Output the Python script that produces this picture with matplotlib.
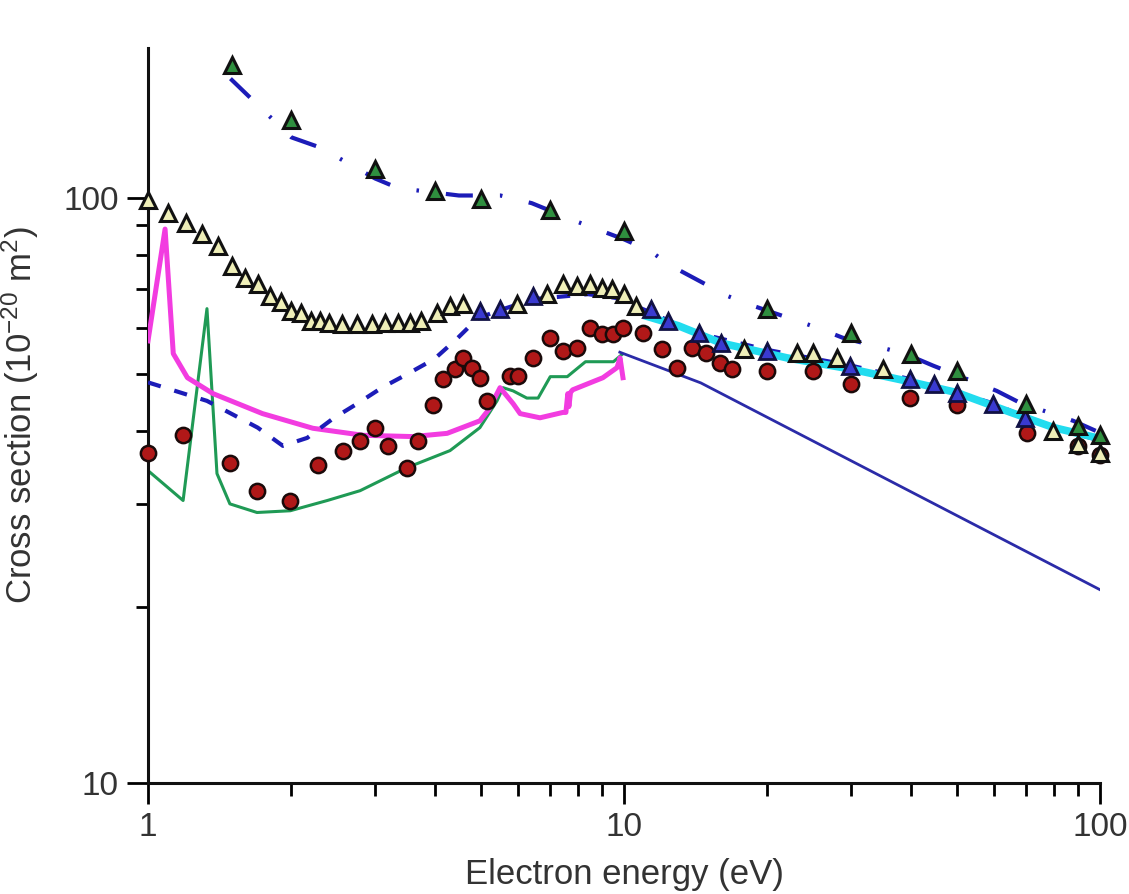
import matplotlib
matplotlib.use("Agg")
import matplotlib.pyplot as plt
from matplotlib.ticker import LogLocator, NullFormatter

plt.rcParams['font.family'] = ['Liberation Sans', 'DejaVu Sans']
plt.rcParams['mathtext.fontset'] = 'custom'
plt.rcParams['mathtext.rm'] = 'Liberation Sans'
plt.rcParams['mathtext.it'] = 'Liberation Sans'

# ---- measured cross sections (green triangles) ----
e_tri_green = [1.5, 2, 3, 4, 5, 7, 10, 20, 30, 40, 50, 70, 90, 100]
s_tri_green = [169, 136, 112, 103, 99.6, 95.4, 87.8, 64.7, 58.8, 54.2, 50.7, 44.5, 40.8, 39.3]

# ---- measured cross sections (pale triangles) ----
e_tri_pale = [1.0, 1.1, 1.2, 1.3, 1.4, 1.5, 1.6, 1.7, 1.8, 1.9, 2.0, 2.1, 2.2, 2.3, 2.4,
              2.55, 2.75, 2.95, 3.15, 3.35, 3.55, 3.75, 4.05, 4.3, 4.6, 5.95,
              6.9, 7.45, 7.95, 8.5, 9.0, 9.45, 10.0, 10.6,
              17.9, 23.1, 24.9, 28.0, 35.0, 79.8, 90, 100]
s_tri_pale = [99.2, 94.4, 90.8, 86.8, 82.8, 76.5, 73.1, 71.3, 68.0, 66.3, 64.1, 63.7, 61.6, 61.6, 61.2,
              61.0, 60.8, 61.0, 61.2, 61.2, 61.2, 61.6, 63.7, 65.5, 65.9, 65.9,
              68.5, 71.3, 70.8, 71.3, 70.3, 69.8, 68.5, 65.3,
              55.2, 54.4, 54.4, 53.3, 51.1, 40.0, 38.0, 36.7]

# ---- measured cross sections (blue triangles) ----
e_tri_blue = [4.98, 5.49, 6.44, 11.4, 12.4, 14.4, 16.0, 20.0, 29.8, 39.9, 44.8, 50.1, 59.6, 69.6]
s_tri_blue = [64.1, 64.7, 68.0, 64.7, 61.6, 58.8, 56.6, 54.8, 51.7, 49.1, 48.1, 46.5, 44.5, 42.1]

# ---- measured cross sections (red circles) ----
e_circ = [1.0, 1.185, 1.487, 1.694, 1.99, 2.28, 2.57, 2.79, 3.0, 3.19, 3.5, 3.69, 3.97, 4.17,
          4.42, 4.59, 4.79, 4.98, 5.15, 5.76, 5.99, 6.44, 6.99, 7.44, 7.96, 8.5, 9.0, 9.49,
          9.95, 10.96, 12.0, 12.9, 13.9, 14.9, 15.9, 16.9, 20.0, 24.9, 30.0, 39.9, 50.1,
          70.2, 89.9, 100]
s_circ = [36.7, 39.3, 35.3, 31.6, 30.4, 34.9, 37.0, 38.5, 40.5, 37.7, 34.6, 38.5, 44.2, 49.1,
          51.1, 53.3, 51.3, 49.3, 45.0, 49.7, 49.7, 53.3, 57.7, 54.8, 55.5, 60.0, 58.6, 58.6,
          60.0, 58.8, 55.2, 51.3, 55.5, 54.4, 52.3, 51.1, 50.7, 50.7, 48.1, 45.6, 44.2,
          39.7, 37.7, 36.3]

# ---- calculated curves ----
e_dashdot = [1.49, 2.0, 2.3, 3.0, 3.35, 4.5, 5.5, 6.4, 8.0, 10.0, 11.4, 12.4, 16.5, 18.7,
             25.5, 28.8, 38.9, 44.6, 60.7, 67.8, 87.9, 100]
s_dashdot = [160, 127, 122, 108, 104, 101, 101, 98, 91, 85, 81, 77, 68, 65.4,
             60, 57.7, 54.2, 51.7, 46.8, 44.7, 41.6, 39.7]

e_dashed = [1.0, 1.33, 1.70, 1.92, 2.16, 2.45, 2.75, 3.1, 3.52, 4.0, 4.46, 4.92, 5.41, 6.5,
            8.4, 9.6, 11.2, 14, 20, 30, 40, 50, 60, 70, 80, 100]
s_dashed = [48.4, 45.0, 40.5, 37.7, 38.9, 42.0, 44.5, 47.4, 50.1, 53.1, 57.5, 62.2, 64.1, 67.2,
            68.5, 67.5, 64.1, 59, 55, 51.7, 49, 46.5, 44.5, 42.1, 40.5, 38.5]

e_cyan = [11, 13, 16, 22, 30, 40, 50, 65, 80, 100]
s_cyan = [63, 60.5, 56.5, 53.3, 51, 48.5, 46.5, 43, 40.5, 38.8]

e_navy = [9.8, 14.5, 100]
s_navy = [54.5, 48.3, 21.4]

e_magenta = [1.0, 1.086, 1.13, 1.21, 1.37, 1.74, 2.22, 2.83, 3.6, 4.25, 4.98, 5.2, 5.49,
             5.85, 6.05, 6.66, 7.44, 7.55, 7.62, 7.66, 7.72, 7.8, 9.03, 9.67, 9.81, 9.95]
s_magenta = [57, 88.5, 54.2, 49.3, 46.3, 42.8, 40.4, 39.3, 39.1, 39.6, 41.6, 43.5, 47.4,
             44.5, 42.8, 42.1, 43.0, 43.0, 46.3, 44.0, 46.5, 47, 49.3, 51.3, 53.3, 49.3]

e_green = [1.0, 1.185, 1.33, 1.396, 1.486, 1.694, 1.99, 2.38, 2.79, 3.5, 4.31, 4.98, 5.41,
           5.57, 5.85, 6.25, 6.6, 7.0, 7.6, 8.3, 9.5, 9.9]
s_green = [34.2, 30.4, 64.7, 33.8, 30.0, 29.0, 29.2, 30.4, 31.6, 34.6, 37.0, 40.5, 45.0,
           47.4, 46.8, 45.5, 45.5, 49.5, 49.5, 52.5, 52.5, 54.0]

fig = plt.figure(figsize=(11.29, 8.94), dpi=100)
ax = fig.add_axes([0.1311, 0.1242, 0.8432, 0.8221])
ax.set_xscale('log')
ax.set_yscale('log')
ax.set_xlim(1, 100)
ax.set_ylim(10, 180.5)

# curves
ax.plot(e_green, s_green, color='#1f9a55', lw=2.2, zorder=2)
ax.plot(e_magenta, s_magenta, color='#f23ce0', lw=3.6, zorder=3)
ax.plot(e_navy, s_navy, color='#2b2ba8', lw=2.0, zorder=2)
ln, = ax.plot(e_dashed, s_dashed, color='#1c1cb8', lw=3.0, zorder=3)
ln.set_dashes([3.2, 3.4])
ax.plot(e_cyan, s_cyan, color='#22dcef', lw=5.5, zorder=4, solid_capstyle='butt')
ln2, = ax.plot(e_dashdot, s_dashdot, color='#1c1cb8', lw=3.0, zorder=4)
ln2.set_dashes([6.5, 6.5, 0.6, 6.5])

# symbols
ax.plot(e_circ, s_circ, 'o', ms=11, mfc='#b01818', mec='#1a0a0a', mew=1.8,
        zorder=5, clip_on=False)
ax.plot(e_tri_pale, s_tri_pale, '^', ms=11, mfc='#efefb8', mec='#111111', mew=2.2,
        zorder=6, clip_on=False)
ax.plot(e_tri_blue, s_tri_blue, '^', ms=11, mfc='#3a3ad0', mec='#111144', mew=2.0,
        zorder=6, clip_on=False)
ax.plot(e_tri_green, s_tri_green, '^', ms=11, mfc='#2f8f3f', mec='#111111', mew=2.2,
        zorder=7, clip_on=False)

# axes styling
for side in ('top', 'right'):
    ax.spines[side].set_visible(False)
for side in ('left', 'bottom'):
    ax.spines[side].set_linewidth(2.2)
    ax.spines[side].set_color('#111111')

ax.set_xticks([1, 10, 100], labels=['1', '10', '100'])
ax.set_yticks([10, 100], labels=['10', '100'])
ax.xaxis.set_minor_locator(LogLocator(base=10, subs=range(2, 10)))
ax.yaxis.set_minor_locator(LogLocator(base=10, subs=range(2, 10)))
ax.xaxis.set_minor_formatter(NullFormatter())
ax.yaxis.set_minor_formatter(NullFormatter())
ax.tick_params(which='major', direction='out', length=15, width=2.0,
               labelsize=24, labelcolor='#333333', pad=6)
ax.tick_params(which='minor', direction='out', length=9, width=2.0)

ax.set_xlabel('Electron energy (eV)', fontsize=25, color='#333333')
ax.set_ylabel('Cross section (10$^{-20}$ m$^{2}$)', fontsize=25, color='#333333')
ax.xaxis.label.set_verticalalignment('baseline')
ax.xaxis.set_label_coords(0.5, -0.138)
ax.yaxis.set_label_coords(-0.112, 0.5)

fig.savefig('out.png', dpi=100)
